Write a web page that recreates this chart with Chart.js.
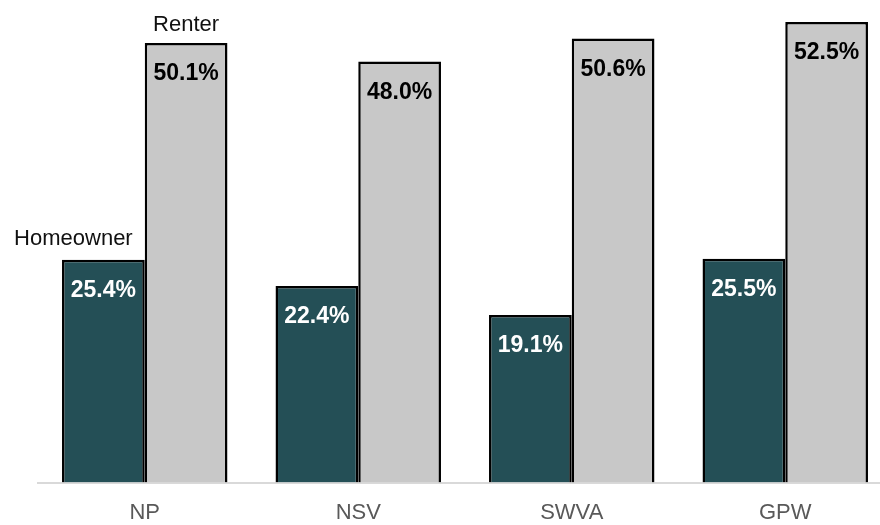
<!DOCTYPE html>
<html>
<head>
<meta charset="utf-8">
<script src="https://cdn.jsdelivr.net/npm/chart.js@4"></script>
<style>
  html, body { margin: 0; padding: 0; overflow: hidden; background: #fff; }
  #wrap { width: 892px; height: 525px; }
</style>
</head>
<body>
<div id="wrap"><canvas id="chart" width="892" height="525"></canvas></div>
<script>
const regions = ['NP', 'NSV', 'SWVA', 'GPW'];
const homeowner = [25.4, 22.4, 19.1, 25.5];
const renter = [50.1, 48.0, 50.6, 52.5];
const seriesNames = ['Homeowner', 'Renter'];

// value labels inside the bar tops, plus the series names over the first group
const barLabels = {
  id: 'barLabels',
  afterDatasetsDraw(chart) {
    const ctx = chart.ctx;
    ctx.save();
    ctx.textAlign = 'center';
    ctx.textBaseline = 'middle';
    chart.data.datasets.forEach((ds, i) => {
      const meta = chart.getDatasetMeta(i);
      meta.data.forEach((bar, j) => {
        ctx.font = 'bold 23px "Liberation Sans", Arial, sans-serif';
        ctx.fillStyle = i === 0 ? '#ffffff' : '#000000';
        ctx.fillText(ds.data[j].toFixed(1) + '%', bar.x, bar.y + 31);
      });
      const first = meta.data[0];
      ctx.font = '22px "Liberation Sans", Arial, sans-serif';
      ctx.fillStyle = '#111111';
      const dx = i === 0 ? -30 : 0;
      ctx.fillText(ds.label, first.x + dx, first.y - (i === 0 ? 21 : 18));
    });
    ctx.restore();
  }
};

new Chart(document.getElementById('chart'), {
  type: 'bar',
  data: {
    labels: regions,
    datasets: [
      {
        label: seriesNames[0],
        data: homeowner,
        backgroundColor: '#244F56',
        borderColor: '#000000',
        borderWidth: 2.5
      },
      {
        label: seriesNames[1],
        data: renter,
        backgroundColor: '#C8C8C8',
        borderColor: '#000000',
        borderWidth: 2.5
      }
    ]
  },
  options: {
    responsive: false,
    animation: false,
    layout: { padding: { left: 38, right: 0, top: 0, bottom: -18 } },
    datasets: {
      bar: { barPercentage: 1, categoryPercentage: 0.775 }
    },
    plugins: {
      legend: { display: false },
      tooltip: { enabled: false }
    },
    scales: {
      x: {
        z: 1,
        grid: { display: false, drawTicks: false },
        border: { display: true, color: 'rgba(0,0,0,0.15)', width: 2 },
        ticks: {
          padding: 17,
          color: '#595959',
          font: { family: '"Liberation Sans", Arial, sans-serif', size: 22 }
        }
      },
      y: {
        display: false,
        min: 0,
        max: 55
      }
    }
  },
  plugins: [barLabels]
});
</script>
</body>
</html>
